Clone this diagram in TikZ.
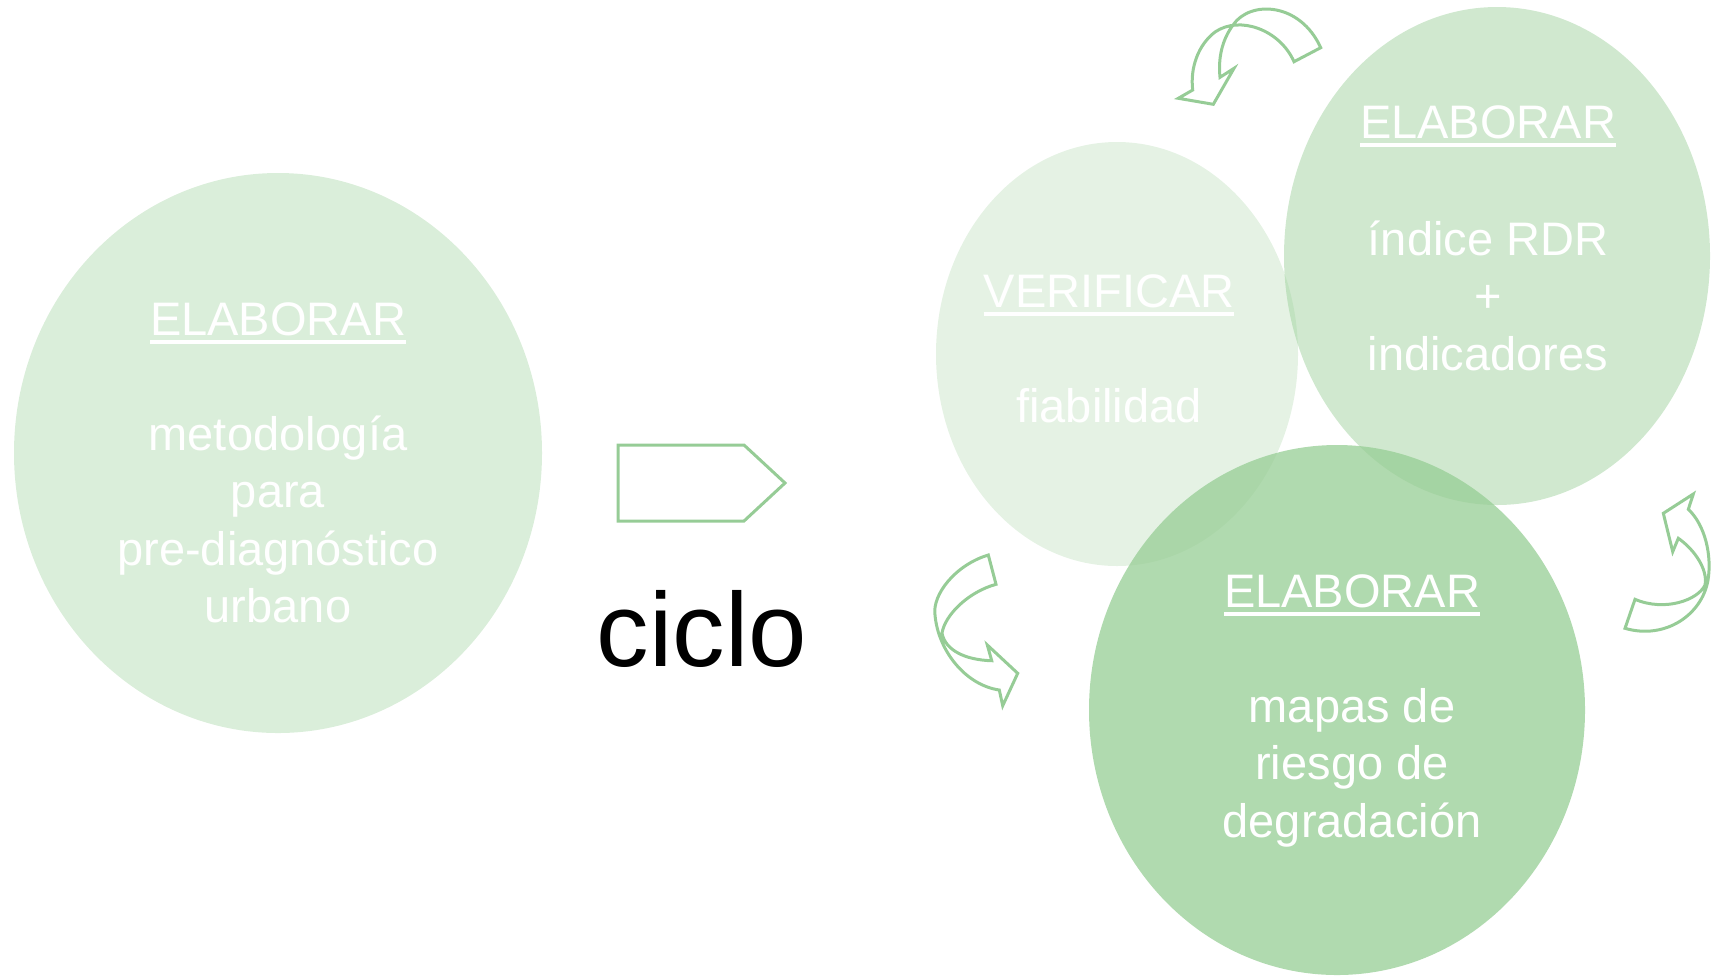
\documentclass[tikz,border=0pt]{standalone}
\usepackage{fontspec}
\setmainfont{Liberation Sans}
\usepackage{xcolor}
\definecolor{verdeciclo}{RGB}{150,205,148}
\definecolor{verdelinea}{RGB}{150,204,150}
\newcommand{\subrayado}[1]{\setbox0=\hbox{#1}\rlap{\rule[-4.35pt]{\wd0}{1.7pt}}\box0}

\begin{document}
\begin{tikzpicture}[x=0.5pt,y=-0.5pt]
		\tikzstyle{every node}+=[inner sep=0pt]
		\tikzstyle{titulo}=[text=white, font=\fontsize{23.5}{28.8}\selectfont, anchor=base]
		% base anchor of a multi-line node sits on its last line
		\tikzstyle{cuerpo}=[text=white, font=\fontsize{23.5}{28.8}\selectfont, align=center, anchor=base]
		\tikzstyle{flecha}=[draw=verdelinea, line width=1.5pt, line join=miter]
		\useasboundingbox (0,0) rectangle (1711,976);
		\fill [verdeciclo, fill opacity=0.35] (278,453) ellipse [x radius=264, y radius=280];
		\fill [verdeciclo, fill opacity=0.25] (1117,354) ellipse [x radius=181, y radius=212];
		\fill [verdeciclo, fill opacity=0.45] (1497,256) ellipse [x radius=213, y radius=249];
		\fill [verdeciclo, fill opacity=0.75] (1337,710) ellipse [x radius=248, y radius=265];
		\draw (278,335) node [titulo] (titA) {\subrayado{ELABORAR}};
		\draw (278,{450+3*57.6}) node [cuerpo] (txtA) {metodología\\para\\pre-diagnóstico\\urbano};
		\draw (1109,307) node [titulo] (titV) {\subrayado{VERIFICAR}};
		\draw (1109,422) node [cuerpo] (txtV) {fiabilidad};
		\draw (1488,138) node [titulo] (titR) {\subrayado{ELABORAR}};
		\draw (1488,{255+2*57.6}) node [cuerpo] (txtR) {índice RDR\\+\\indicadores};
		\draw (1352,607) node [titulo] (titM) {\subrayado{ELABORAR}};
		\draw (1352,{722+2*57.6}) node [cuerpo] (txtM) {mapas de\\riesgo de\\degradación};
		\draw [flecha] (618,445) -- (744,445) -- (785,483) -- (744,521) -- (618,521) -- cycle;
		\draw (702,666) node [anchor=base, font=\fontsize{52.5}{63}\selectfont] (ciclo) {ciclo};
		\draw [flecha] (1320.7,47.7) .. controls (1300,2) and (1250,0) .. (1233,25) .. controls (1222,40) and (1218,58) .. (1220,77.3) -- (1234,68.3) -- (1213.3,104.3) -- (1178.3,98.3) -- (1192.7,90) .. controls (1190,68) and (1198,45) .. (1215,32) .. controls (1240,15) and (1280,30) .. (1294,61.7) -- cycle;
		\draw [flecha] (988.3,555) .. controls (955,565) and (932,595) .. (935,615) .. controls (938,650) and (965,685) .. (999.3,690) -- (1002.7,705.7) -- (1017.7,673.3) -- (987.3,645) -- (991.7,660.7) .. controls (965,660) and (945,650) .. (942,633) .. controls (945,615) and (968,592) .. (996,584.3) -- cycle;
		\draw [flecha] (1635,599.3) .. controls (1665,612) and (1698,600) .. (1705,585) .. controls (1708,570) and (1695,550) .. (1678.3,538.3) -- (1672.7,551.7) -- (1663.3,513.3) -- (1693.3,494) -- (1688.3,509.3) .. controls (1705,525) and (1712,555) .. (1708,580) .. controls (1702,615) and (1665,640) .. (1625,628.3) -- cycle;
	\end{tikzpicture}
\end{document}
